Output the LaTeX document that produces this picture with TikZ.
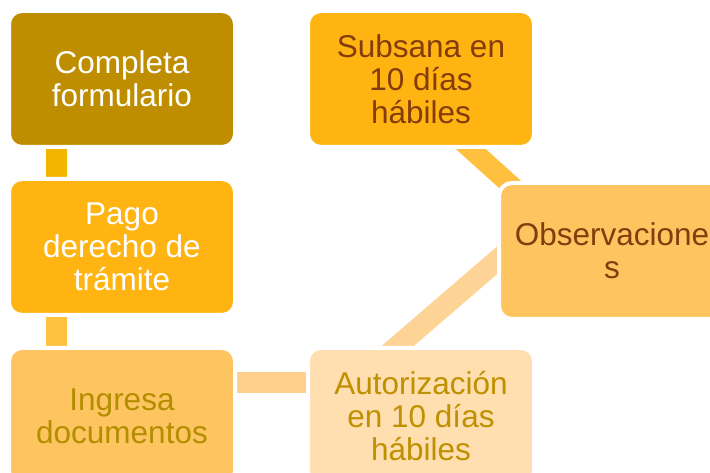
\documentclass[tikz,border=0pt]{standalone}
\usepackage{fontspec}
\setmainfont{Liberation Sans}
\usetikzlibrary{calc,backgrounds}
\definecolor{cComp}{RGB}{191,142,0}
\definecolor{cPago}{RGB}{255,180,18}
\definecolor{cIng}{RGB}{254,196,96}
\definecolor{cAut}{RGB}{255,222,175}
\definecolor{cObs}{RGB}{254,196,96}
\definecolor{cSub}{RGB}{255,180,18}
\definecolor{kOne}{RGB}{243,181,0}
\definecolor{kTwo}{RGB}{255,194,64}
\definecolor{kThree}{RGB}{254,208,140}
\definecolor{kFour}{RGB}{254,212,150}
\definecolor{kFive}{RGB}{255,192,64}
\definecolor{tIng}{RGB}{178,142,0}
\definecolor{tAut}{RGB}{191,144,0}
\definecolor{tBrown}{RGB}{132,60,12}
\begin{document}
\begin{tikzpicture}[x=1pt,y=1pt,
  stepbox/.style={draw=white, line width=4pt, rounded corners=13pt,
    minimum width=226pt, minimum height=136pt, inner sep=0pt,
    align=center, font=\fontsize{31.5}{33}\selectfont},
  conn/.style={line width=21pt}]
\useasboundingbox (0,0) rectangle (710,473);
\node[stepbox, fill=cComp, text=white] (comp) at (122,394) {Completa\\formulario};
\node[stepbox, fill=cPago, text=white] (pago) at (122,226) {Pago\\derecho de\\trámite};
\node[stepbox, fill=cIng, text=tIng] (ing) at (122,57) {Ingresa\\documentos};
\node[stepbox, fill=cAut, text=tAut] (aut) at (421,57) {Autorización\\en 10 días\\hábiles};
\node[stepbox, fill=cObs, text=tBrown] (obs) at (612,222) {Observacione\\s};
\node[stepbox, fill=cSub, text=tBrown] (sub) at (421,394) {Subsana en\\10 días\\hábiles};
\begin{scope}[on background layer]
\fill[white] (0,0) rectangle (710,473);
\draw[conn, kOne] ($(comp.south)+(-65.5,10)$) -- ($(pago.north)+(-65.5,-10)$);
\draw[conn, kTwo] ($(pago.south)+(-65.5,10)$) -- ($(ing.north)+(-65.5,-10)$);
\draw[conn, kThree] ($(ing.east)+(-10,33.5)$) -- ($(aut.west)+(10,33.5)$);
\draw[conn, kFour] ($(aut.center)+(-62.8,36)$) -- ($(obs.center)+(-72,27.7)$);
\draw[conn, kFive, line width=20pt] ($(sub.center)+(28.6,-51)$) -- ($(obs.center)+(-73.5,41)$);
\end{scope}
\end{tikzpicture}
\end{document}
